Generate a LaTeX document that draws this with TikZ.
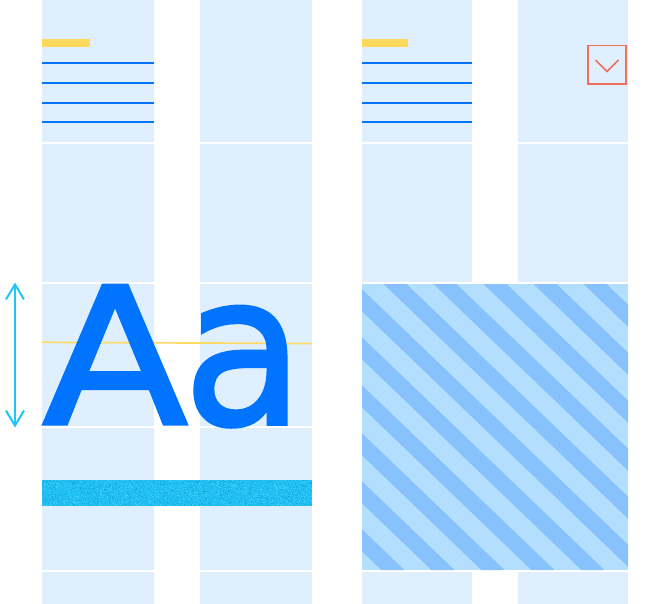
\documentclass[tikz,border=0pt]{standalone}
\usepackage{fontspec}
\usepackage{graphicx}
\newfontfamily\aafont[FakeBold=1.7]{DejaVu Sans}
\usetikzlibrary{arrows.meta}
\definecolor{cellbg}{HTML}{E0EFFD}
\definecolor{lineblue}{HTML}{0073FF}
\definecolor{ybar}{HTML}{FFD95C}
\definecolor{yline}{HTML}{FFD966}
\definecolor{stripeL}{HTML}{B3DEFE}
\definecolor{stripeD}{HTML}{88C2FC}
\definecolor{chev}{HTML}{F36E5C}
\definecolor{arrowcyan}{HTML}{1EC6F6}
\definecolor{barcyan}{HTML}{22BFF2}
\definecolor{barDark}{HTML}{12AADF}
\definecolor{barLight}{HTML}{45D2FF}
\tikzset{
  cell/.style={fill=cellbg},
  textline/.style={draw=lineblue, line width=2pt},
  ybarstyle/.style={fill=ybar},
  chevbox/.style={draw=chev, line width=1.7pt},
  measure/.style={draw=arrowcyan, line width=2pt,
    {Straight Barb[length=15pt,width=18pt]}-{Straight Barb[length=15pt,width=18pt]}},
  glyph/.style={anchor=base west, inner sep=0pt, text=lineblue},
}
\begin{document}
\begin{tikzpicture}[x=1pt,y=-1pt]
\useasboundingbox (0,0) rectangle (666,604);
\fill[white] (0,0) rectangle (666,604);
% grid of cells
\foreach \xa/\xb in {42/154,200/312,362/472,518/628}{
  \foreach \ya/\yb in {0/142,144/282,284/426,428/570,572/604}{
    \fill[cell] (\xa,\ya) rectangle (\xb,\yb);
  }
}
% striped block
\begin{scope}
  \clip (362,284) rectangle (628,570);
  \fill[stripeL] (362,284) rectangle (628,570);
  \foreach \k in {-8,...,5}{
    \pgfmathsetmacro\xo{383.5+50*\k}
    \fill[stripeD] (\xo,284) -- ++(23,0) -- ++(297.9,286) -- ++(-23,0) -- cycle;
  }
\end{scope}
% top text placeholders
\fill[ybarstyle] (42,39) rectangle (90,47);
\fill[ybarstyle] (362,39) rectangle (408,47);
\foreach \y in {63,83,103,122}{
  \draw[textline] (42,\y) -- (154,\y);
  \draw[textline] (362,\y) -- (472,\y);
}
% dropdown box
\node[chevbox, minimum width=38.3pt, minimum height=38.3pt, inner sep=0pt] (dd) at (606.8,64.8) {};
\draw[draw=chev, line width=1.5pt] ([shift={(-11.3,-4.8)}]dd.center) -- ([shift={(0.2,6.7)}]dd.center) -- ([shift={(11.7,-4.8)}]dd.center);
% cyan noisy bar
\fill[barcyan] (42,480) rectangle (312,506);
\pgfmathsetseed{17}
\foreach \i in {1,...,900}{
  \pgfmathsetmacro\rx{42+269*rnd}
  \pgfmathsetmacro\ry{480+25*rnd}
  \fill[barDark] (\rx,\ry) rectangle ++(1,1);
}
\foreach \i in {1,...,600}{
  \pgfmathsetmacro\rx{42+269*rnd}
  \pgfmathsetmacro\ry{480+25*rnd}
  \fill[barLight] (\rx,\ry) rectangle ++(1,1);
}
% guide line and glyphs
\coordinate (gl) at (42,342.3);
\coordinate (gr) at (312,343.5);
\draw[draw=yline, line width=1.7pt] (gl) -- (gr);
\node[glyph] (A) at (42.2,424) {\resizebox{145.2pt}{138.5pt}{\aafont A}};
\node[glyph] (a) at (183,424) {\resizebox{120.5pt}{117.5pt}{\aafont a}};
% measure arrow
\coordinate (mt) at (15,282.5);
\coordinate (mb) at (15,427.5);
\draw[measure] (mt) -- (mb);
\end{tikzpicture}
\end{document}
